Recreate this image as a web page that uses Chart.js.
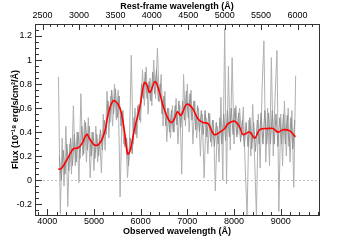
<!DOCTYPE html>
<html>
<head>
<meta charset="utf-8">
<script src="https://cdn.jsdelivr.net/npm/chart.js@4"></script>
<style>
  body { margin: 0; background: #fff; }
</style>
</head>
<body>
<canvas id="spec" width="355" height="240"></canvas>
<script>
// observed wavelength range of the plot and the redshift used for the top axis
const obsMin = 3738;
const obsMax = 9820;
const onePlusZ = 1.56;

const obsTicks = [4000, 5000, 6000, 7000, 8000, 9000];
const restTicks = [2500, 3000, 3500, 4000, 4500, 5000, 5500, 6000];
const fluxTicks = [-0.2, 0, 0.2, 0.4, 0.6, 0.8, 1, 1.2];

// raw spectrum, noisy pixels (light grey)
const specWave = [4240,4280,4320,4360,4400,4440,4480,4520,4560,4600,4640,4680,4720,4760,4800,4840,
  4880,4920,4960,5000,5040,5080,5120,5160,5200,5240,5280,5320,5360,5400,5440,5480,5520,5560,5600,
  5640,5680,5720,5760,5800,5840,5880,5920,5960,6000,6040,6080,6120,6160,6200,6240,6280,6320,6360,
  6400,6440,6480,6520,6560,6600,6640,6680,6720,6760,6800,6840,6880,6920,6960,7000,7040,7080,7120,
  7160,7200,7240,7280,7320,7360,7400,7440,7480,7520,7560,7600,7640,7680,7720,7760,7800,7840,7880,
  7920,7960,8000,8040,8080,8120,8160,8200,8240,8280,8320,8360,8400,8440,8480,8520,8560,8600,8640,
  8680,8720,8760,8800,8840,8880,8920,8960,9000,9040,9080,9120,9160,9200,9240,9280,9320];
const specFlux = [0.86,-0.28,0.35,-0.05,0.45,-0.22,0.30,0.05,0.62,0.12,0.40,-0.02,0.72,0.20,0.50,0.15,
  0.52,0.02,0.40,0.08,0.45,0.15,0.38,0.06,0.55,0.25,0.74,0.35,0.70,0.45,0.80,0.50,0.75,-0.14,0.55,
  0.30,0.38,0.02,0.30,1.04,0.30,0.60,0.35,0.63,0.48,0.92,0.62,0.94,0.55,0.85,0.62,1.00,0.68,1.10,
  0.65,0.88,0.45,0.74,0.32,0.60,0.35,0.62,0.40,0.68,0.30,0.62,0.05,0.88,0.45,0.80,0.40,0.75,0.30,
  0.66,0.35,0.60,0.20,0.55,0.02,0.52,0.22,0.55,0.28,0.50,-0.09,0.45,0.15,0.69,0.00,1.26,-0.03,0.95,
  0.25,1.02,0.30,0.62,0.38,0.60,0.36,0.61,0.10,-0.30,0.50,0.20,0.63,0.19,-0.30,0.55,0.10,0.75,1.16,
  0.15,0.60,0.12,1.02,0.20,0.70,1.08,-0.26,0.55,0.12,0.66,0.20,0.60,0.15,0.58,-0.06,0.87];

// raw spectrum, in-between pixels (darker grey core)
const coreWave = [4260,4300,4340,4380,4420,4460,4500,4540,4580,4620,4660,4700,4740,4780,4820,4860,
  4900,4940,4980,5020,5060,5100,5140,5180,5220,5260,5300,5340,5380,5420,5460,5500,5540,5580,5620,
  5660,5700,5740,5780,5820,5860,5900,5940,5980,6020,6060,6100,6140,6180,6220,6260,6300,6340,6380,
  6420,6460,6500,6540,6580,6620,6660,6700,6740,6780,6820,6860,6900,6940,6980,7020,7060,7100,7140,
  7180,7220,7260,7300,7340,7380,7420,7460,7500,7540,7580,7620,7660,7700,7740,7780,7820,7860,7900,
  7940,7980,8020,8060,8100,8140,8180,8220,8260,8300,8340,8380,8420,8460,8500,8540,8580,8620,8660,
  8700,8740,8780,8820,8860,8900,8940,8980,9020,9060,9100,9140,9180,9220,9260,9300];
const coreFlux = [0.20,0.00,0.25,0.05,0.30,0.08,0.35,0.12,0.38,0.15,0.40,0.18,0.45,0.22,0.48,0.25,
  0.45,0.20,0.40,0.18,0.38,0.20,0.42,0.25,0.50,0.38,0.66,0.48,0.75,0.55,0.76,0.52,0.70,0.45,0.58,
  0.28,0.35,0.12,0.35,0.22,0.52,0.38,0.62,0.50,0.80,0.68,0.90,0.68,0.82,0.66,0.90,0.72,0.92,0.66,
  0.80,0.55,0.70,0.45,0.60,0.40,0.58,0.40,0.62,0.46,0.66,0.44,0.66,0.50,0.74,0.52,0.72,0.50,0.66,
  0.42,0.62,0.40,0.58,0.38,0.58,0.36,0.56,0.32,0.50,0.28,0.48,0.30,0.52,0.30,0.55,0.33,0.58,0.36,
  0.60,0.38,0.60,0.36,0.56,0.32,0.50,0.28,0.48,0.28,0.52,0.26,0.48,0.24,0.50,0.30,0.56,0.30,0.58,
  0.30,0.56,0.30,0.58,0.30,0.55,0.28,0.52,0.30,0.55,0.30,0.54,0.28,0.52,0.26,0.50];

// smoothed spectrum (red)
const smoothWave = [4236,4309,4450,4557,4664,4737,4844,4914,5021,5128,5235,5306,5413,5520,5592,5663,
  5721,5770,5877,5984,6076,6127,6198,6305,6375,6482,6589,6662,6733,6790,6862,6983,7090,7231,7338,
  7445,7573,7695,7802,7873,8016,8123,8194,8337,8444,8552,8729,8836,8943,9050,9192,9314];
const smoothFlux = [0.09,0.10,0.19,0.26,0.27,0.30,0.38,0.34,0.29,0.31,0.41,0.55,0.66,0.63,0.55,0.38,
  0.22,0.24,0.44,0.61,0.81,0.80,0.73,0.82,0.77,0.62,0.51,0.48,0.52,0.57,0.54,0.63,0.61,0.51,0.48,
  0.47,0.38,0.40,0.43,0.47,0.49,0.44,0.38,0.40,0.35,0.42,0.43,0.43,0.40,0.42,0.41,0.36];

const font = 'Liberation Sans, Arial, Helvetica, sans-serif';

function pairs(xs, ys) {
    return xs.map((x, i) => ({x: x, y: ys[i]}));
}

// frame, inward tick marks and the dashed zero line
const frameTicks = {
    id: 'frameTicks',
    beforeDatasetsDraw(chart) {
        const {ctx, chartArea: a, scales} = chart;
        const y0 = Math.round(scales.y.getPixelForValue(0)) + 0.5;
        ctx.save();
        ctx.strokeStyle = '#c4c4c4';
        ctx.lineWidth = 1;
        ctx.setLineDash([2, 2]);
        ctx.beginPath();
        ctx.moveTo(a.left, y0);
        ctx.lineTo(a.right, y0);
        ctx.stroke();
        ctx.restore();
    },
    afterDraw(chart) {
        const {ctx, chartArea: a, scales} = chart;
        ctx.save();
        ctx.strokeStyle = '#333';
        ctx.lineWidth = 1;
        ctx.beginPath();
        for (let v = 3800; v <= 9800; v += 200) {
            const px = Math.round(scales.x.getPixelForValue(v)) + 0.5;
            const len = obsTicks.includes(v) ? 6 : 3;
            ctx.moveTo(px, a.bottom);
            ctx.lineTo(px, a.bottom - len);
        }
        for (let v = 2400; v <= 6200; v += 100) {
            const px = Math.round(scales.x2.getPixelForValue(v)) + 0.5;
            const len = restTicks.includes(v) ? 6 : 3;
            ctx.moveTo(px, a.top);
            ctx.lineTo(px, a.top + len);
        }
        for (let k = -25; k <= 125; k += 5) {
            const py = Math.round(scales.y.getPixelForValue(k / 100)) + 0.5;
            const len = (k % 20 === 0) ? 7 : 4;
            ctx.moveTo(a.left, py);
            ctx.lineTo(a.left + len, py);
        }
        ctx.stroke();
        ctx.strokeRect(Math.round(a.left) + 0.5, Math.round(a.top) + 0.5,
            Math.round(a.right - a.left), Math.round(a.bottom - a.top));
        ctx.restore();
    }
};

new Chart(document.getElementById('spec'), {
    type: 'line',
    data: {
        datasets: [{
            data: pairs(smoothWave, smoothFlux),
            borderColor: '#ff0000',
            borderWidth: 1.6,
            pointRadius: 0,
            tension: 0.4,
            order: 0
        }, {
            data: pairs(coreWave, coreFlux),
            borderColor: '#929292',
            borderWidth: 1,
            pointRadius: 0,
            tension: 0,
            order: 1
        }, {
            data: pairs(specWave, specFlux),
            borderColor: '#b0b0b0',
            borderWidth: 1,
            pointRadius: 0,
            tension: 0,
            order: 2
        }]
    },
    options: {
        responsive: false,
        animation: false,
        devicePixelRatio: 1,
        layout: { padding: { left: 0, right: 36, top: 0, bottom: 0 } },
        plugins: {
            legend: { display: false },
            tooltip: { enabled: false }
        },
        scales: {
            x: {
                type: 'linear',
                position: 'bottom',
                min: obsMin,
                max: obsMax,
                grid: { display: false, drawTicks: false },
                border: { display: false },
                afterBuildTicks: (s) => { s.ticks = obsTicks.map(v => ({value: v})); },
                afterFit: (s) => { s.height = 25; },
                ticks: {
                    autoSkip: false, maxRotation: 0, padding: 1,
                    color: '#000', font: { family: font, size: 9 },
                    callback: (v) => String(v)
                },
                title: {
                    display: true, text: 'Observed wavelength (Å)', color: '#000',
                    font: { family: font, size: 9, weight: 'bold' },
                    padding: { top: 0, bottom: 3 }
                }
            },
            x2: {
                type: 'linear',
                position: 'top',
                min: obsMin / onePlusZ,
                max: obsMax / onePlusZ,
                grid: { display: false, drawTicks: false },
                border: { display: false },
                afterBuildTicks: (s) => { s.ticks = restTicks.map(v => ({value: v})); },
                afterFit: (s) => { s.height = 24; },
                ticks: {
                    autoSkip: false, maxRotation: 0, padding: 3,
                    color: '#000', font: { family: font, size: 9 },
                    callback: (v) => String(v)
                },
                title: {
                    display: true, text: 'Rest-frame wavelength (Å)', color: '#000',
                    font: { family: font, size: 9, weight: 'bold' },
                    padding: { top: 1, bottom: 0 }
                }
            },
            y: {
                type: 'linear',
                position: 'left',
                min: -0.29,
                max: 1.3,
                grid: { display: false, drawTicks: false },
                border: { display: false },
                afterBuildTicks: (s) => { s.ticks = fluxTicks.map(v => ({value: v})); },
                afterFit: (s) => { s.width = 35; },
                ticks: {
                    autoSkip: false, padding: 3,
                    color: '#000', font: { family: font, size: 9 },
                    callback: (v) => String(+v.toFixed(1))
                },
                title: {
                    display: true, text: 'Flux (10⁻¹⁸ erg/s/cm²/Å)', color: '#000',
                    font: { family: font, size: 9, weight: 'bold' },
                    padding: { top: 10, bottom: 0 }
                }
            }
        }
    },
    plugins: [frameTicks]
});
</script>
</body>
</html>
